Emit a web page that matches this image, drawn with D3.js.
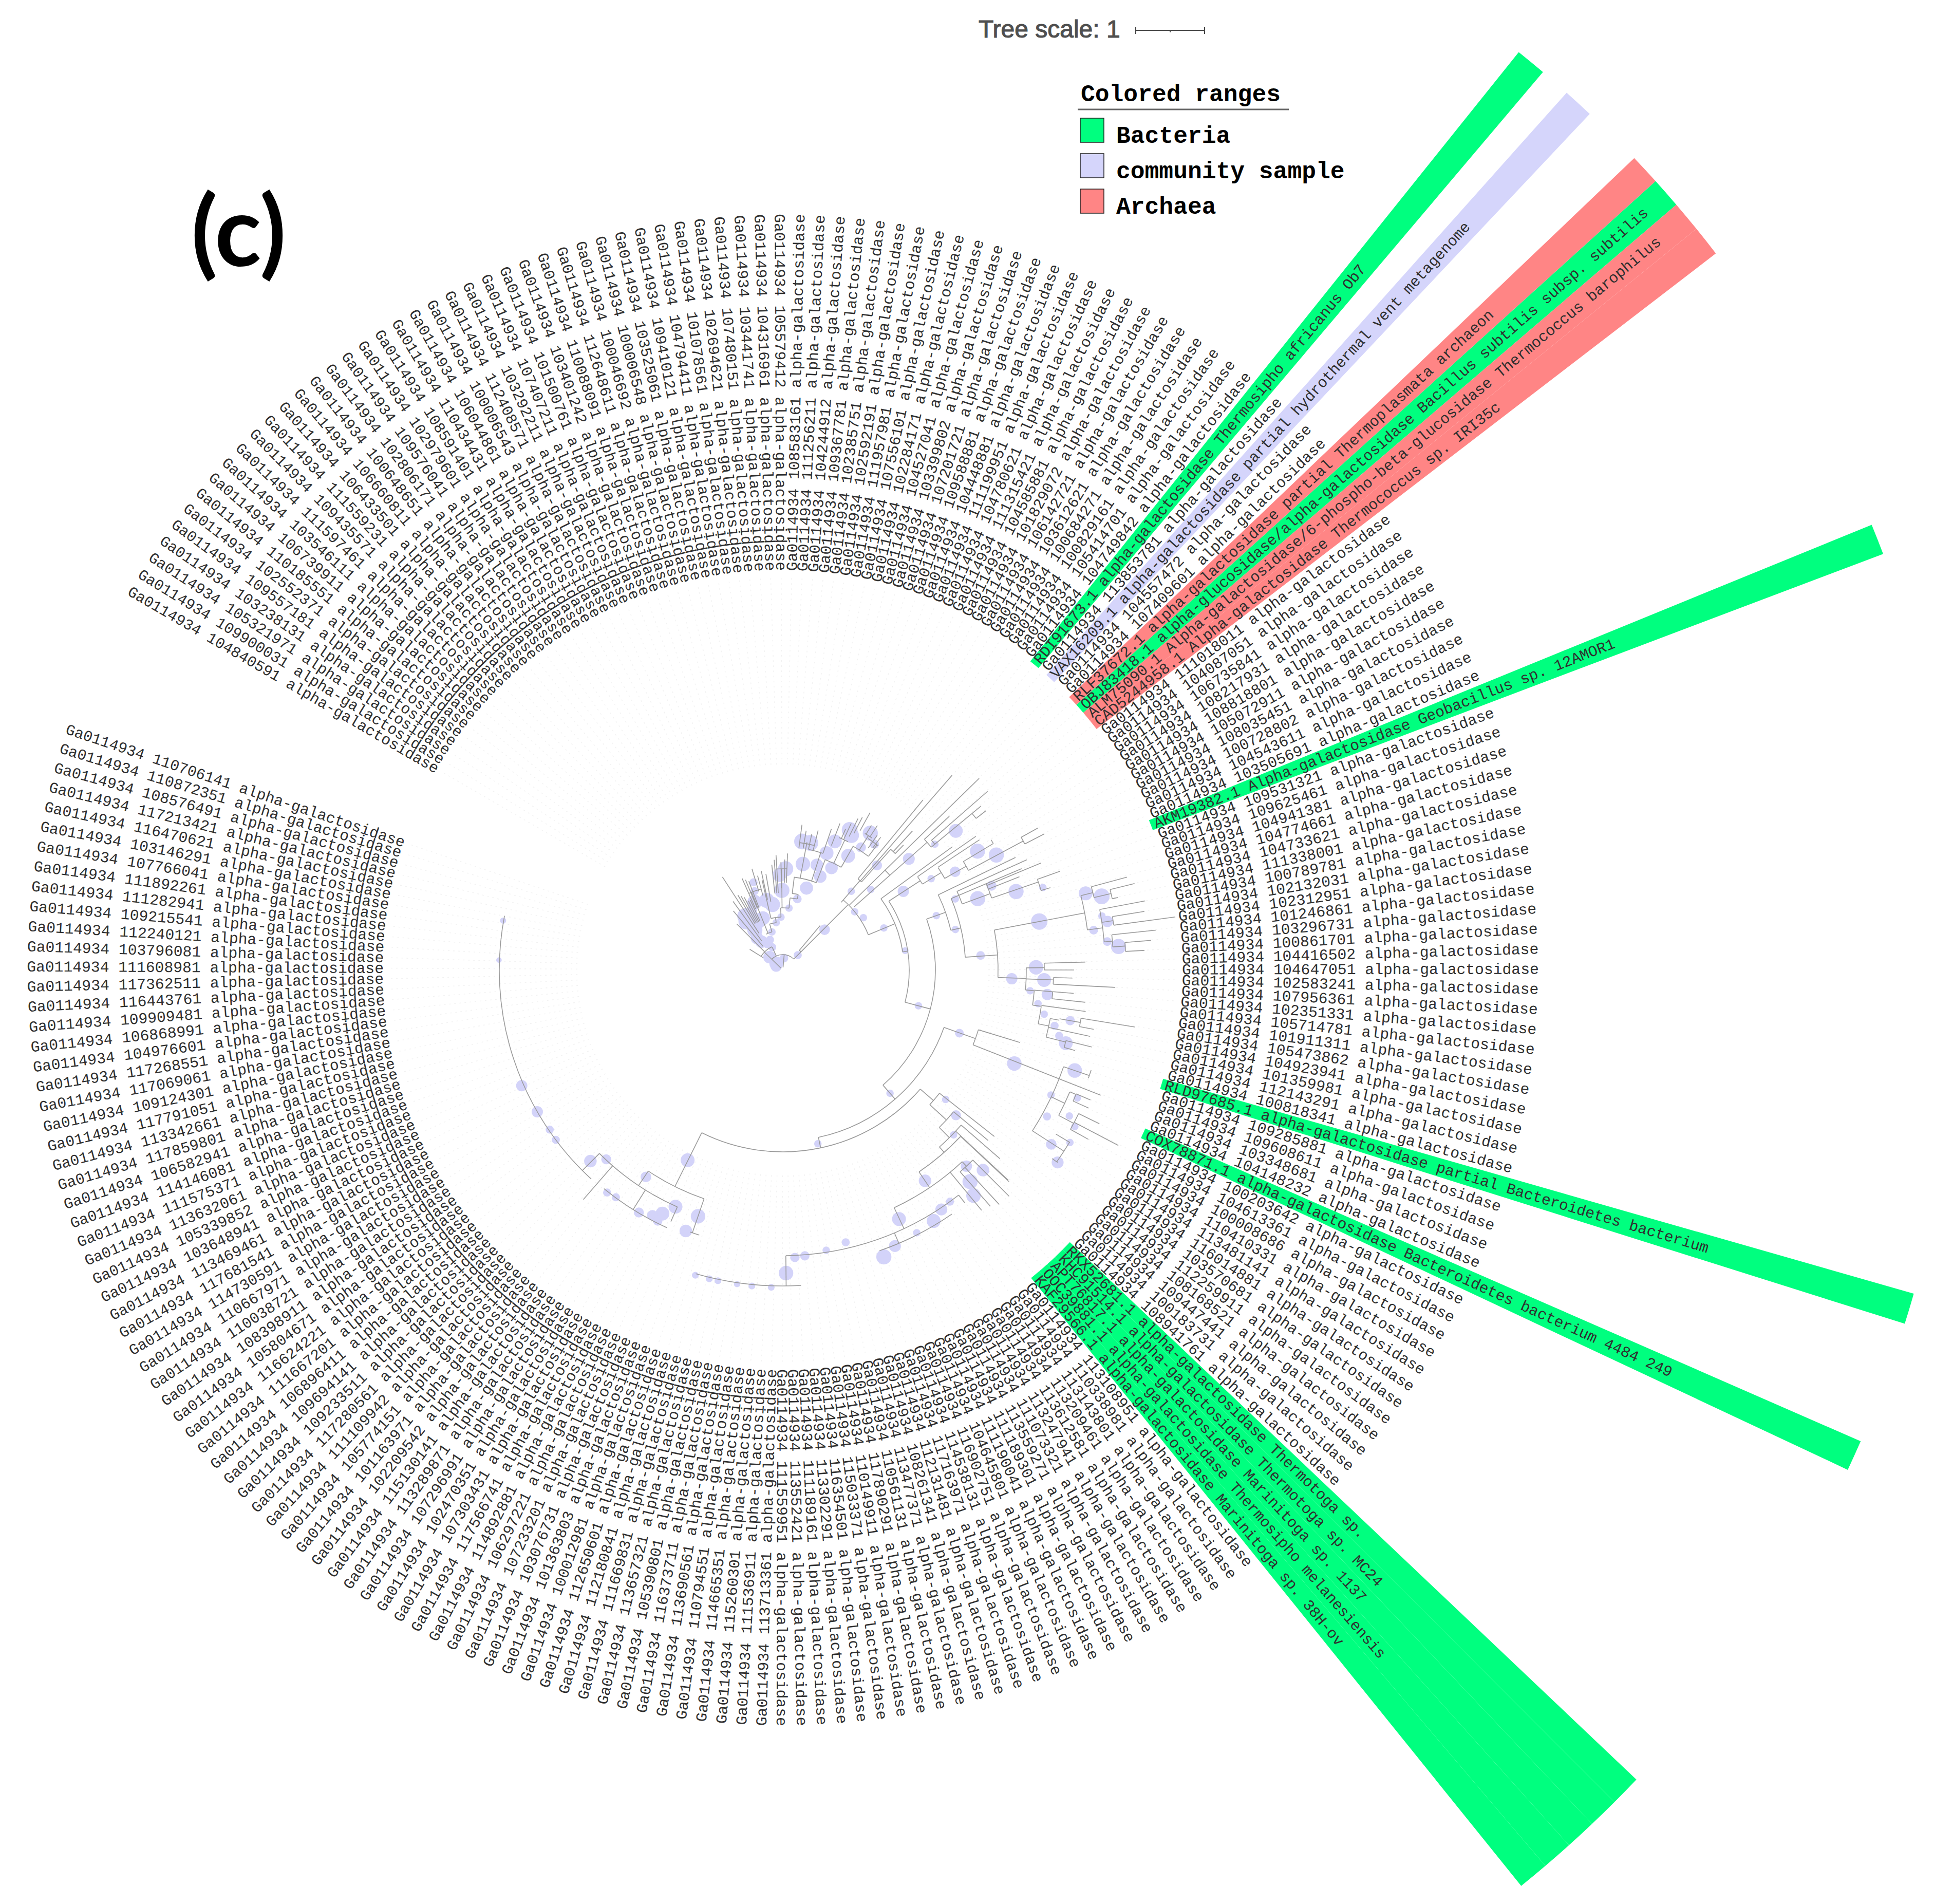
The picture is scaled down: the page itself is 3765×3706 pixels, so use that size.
<!DOCTYPE html>
<html>
<head>
<meta charset="utf-8">
<title>alpha-galactosidase tree</title>
<script src="https://cdn.jsdelivr.net/npm/d3@7"></script>
<style>
  html, body { margin: 0; background: #fff; }
  svg { display: block; }
</style>
</head>
<body>
<svg id="chart" width="3765" height="3706"></svg>
<script>
//Leaves clockwise from the open gap. Plain numbers are the Ga0114934 genes
var leafIds = [
  '104840591','109900031','105321971','103238131','109557181','102552371','110185551','106739911','103546111','111597461',
  '109435571','111559231','106433501','106660811','100648651','102806171','109576041','102979601','108591401','110434431',
  '106044861','100006543','112408571','103292211','107407211','101500761','103401242','110088091','112648611','100046692',
  '100006548','103525061','109410121','104794411','101078561','102694621','107480151','103441741','104316961','105579412',
  '108583161','111256211','104244912','109367781','102385751','102592191','111957981','107556101','102284171','104527041',
  '103399802','107201721','109588881','104448881','111199951','104780621','111315421','104585881','101829072','106142721',
  '103612621','100684271','100829161','105414701','104749842',
  'RDI91673.1 alpha-galactosidase Thermosipho africanus Ob7',
  '113853781',
  'VAX16209.1 alpha-galactosidase partial hydrothermal vent metagenome',
  '104557472','107409601',
  'RLF37672.1 alpha-galactosidase partial Thermoplasmata archaeon',
  'OBJ83418.1 alpha-glucosidase/alpha-galactosidase Bacillus subtilis subsp. subtilis',
  'ALM75090.1 Alpha-galactosidase/6-phospho-beta-glucosidase Thermococcus barophilus',
  'CAD5244958.1 Alpha-galactosidase Thermococcus sp. IRI35c',
  '111018011','104087051','106735841','108217931','108818801','105072911','108035451','100728802','104543611','103505691',
  'AKM19382.1 Alpha-galactosidase Geobacillus sp. 12AMOR1',
  '109531321','109625461','104941381','104774661','104733621','111338001','100789781','102132031','102312951','101246861',
  '103296731','100861701','104416502','104647051','102583241','107956361','102351331','105714781','101911311','105473862',
  '104923941','101359981','112143291','100818341',
  'RLD97685.1 alpha-galactosidase partial Bacteroidetes bacterium',
  '109285881','109608611','103348681','104148232',
  'COX78871.1 alpha-galactosidase Bacteroidetes bacterium 4484 249',
  '100203642','104613361','100008686','110410331','113481141','116014881','103570681','112259911','108168521','109447441',
  '100183731','108941761',
  'RKX52681.1 alpha-galactosidase Thermotoga sp.',
  'KHC91514.1 alpha-galactosidase Thermotoga sp. MC24',
  'APT76817.1 alpha-galactosidase Marinitoga sp. 1137',
  'OOC39881.1 alpha-galactosidase Thermosipho melanesiensis',
  'KAF29566.1 alpha-galactosidase Marinitoga sp. 38H-ov',
  '113108951','110338981','113143801','113209461','113612581','113247941','111073321','113559271','111189301','111190041',
  '104645801','116902751','114538131','117163971','112131481','108261341','113477371','110561131','117890291','110149911',
  '115033371','116354501','113302291','111189161','113552421','111559951',
  '113713361','111536911','115260301','114665351','110794551','113690561','116373711','105390801','113657321','111669831',
  '112180841','112650601','100012981','101363803','103076731','107233201','106297221','114892881','117566741','107303431',
  '102470351','107296991','113289871','115130141','102209542','101163971','105774151','111109942','117280561','109233511',
  '109694141','106896411','111667201','116624221','105804671','108398911','110038721','110667971','114730591','117681541',
  '113469461','103648941','105339852','113632061','111575371','114146081','106582941','117859801','113342661','117791051',
  '109124301','117069061','117268551','104976601','106868991','109909481','116443761','117362511','111608981','103796081',
  '112240121','109215541','111282941','111892261','107766041','103146291','116470621','117213421','108576491','110872351',
  '110706141'
];

var bacteriaLeaves = ['RDI91673.1','OBJ83418.1','AKM19382.1','RLD97685.1','COX78871.1','RKX52681.1','KHC91514.1','APT76817.1','OOC39881.1','KAF29566.1'];
var communityLeaves = ['VAX16209.1'];
var archaeaLeaves = ['RLF37672.1','ALM75090.1','CAD5244958.1'];
var legendNames = ['Bacteria','community sample','Archaea'];

//Tree: bearing in degrees, depth in tree distance (134 = 1 substitution)
//[bearing, depthFrom, depthTo]
var stems = [
  [-46,5,50],[5,5,30],[45,30,50],[-25,30,49],[-58,45,76],[-45,50,127],[-40,60,150],[-36,70,165],[-33,85,216],
  [-31,105,170],[-29.5,105,165],[-28,105,160],[-26.5,105,150],[-25,105,150],[-24,130,195],[-22.5,130,190],[-21,130,185],
  [-17,160,206],[-15,150,190],[-12.3,140,197],[-10,135,190],[-6,150,206],[-4.5,150,215],[-3.4,150,224],[-1,160,210],
  [2.3,170,227],[1,170,215],[7.5,240,285],[9.5,240,275],[14.2,240,280],[12,240,270],[21.3,260,306],[19,240,290],
  [26.4,290,329],[25,280,315],[24,280,300],[29,310,350],[27.5,300,335],[33.2,310,336],[31.5,310,330],[36.4,295,321],[35,290,320],
  [-16,77,93],[-8,93,103],[-2,103,121],[5.7,121,141],[11.5,141,150],[7,150,182],[21,182,230],[29.6,230,277],[37,277,305],
  [-0.7,121,197],[-13,103,180],[-22,77,163],[10.7,182,253],[17.9,182,240],[25.5,230,280],[32.5,277,310],
  [40,50,113],[45,50,180],[40.8,174,230],[39.5,230,429],[41,230,502],[41.8,230,315],[43,315,370],[44,315,338],
  [45.7,180,534],[48.5,185,375],[47.3,375,441],[50.4,375,478],[48.9,384,529],[50.4,478,500],[51.9,478,502],
  [67.6,180,236],[81.4,236,246],[54,236,408],[57,246,319],[55.3,319,457],[58.4,319,362],[56.5,362,459],[60.5,362,410],
  [59,410,478],[61.8,410,531],[60.9,531,568],[62.5,531,574],
  [104.8,246,297],[70.5,297,336],[64.2,336,503],[76.7,336,356],[86,356,419],[67,356,505],[65.7,372,521],[69.8,372,430],
  [67.5,430,544],[68.5,430,495],[71,430,526],[70.4,526,573],[72.9,526,545],
  [79.3,419,598],[92,419,474],[76,598,622],[74.9,622,694],[76.9,622,656],[76.2,656,705],[77.8,656,668],
  [82.5,598,628],[79.2,628,718],[81.5,628,650],[80.8,650,713],[82.3,650,771],[85,628,644],[83.9,644,730],[86,644,668],[85.4,668,719],[86.9,668,705],
  [89.5,474,509],[88.5,509,589],[90,509,567],[92.1,474,527],[91.6,527,564],[93,527,648],[94.7,474,491],
  [94.6,491,527],[94.6,527,568],[96.1,527,592],[98,491,508],[97.8,508,595],[101.9,508,529],[100.3,529,547],[100,547,588],
  [99.2,588,694],[100.8,588,616],[102.2,529,612],[104.3,529,568],[104,568,620],[105.4,568,590],
  [139,297,333],[109.6,333,398],[107,398,483],[111.5,398,665],[109,578,631],[122.8,578,651],[121,620,652],[125,640,653],
  [115.3,578,607],[113,607,620],[114.3,620,653],[112.9,620,650],[117.8,607,640],[115.9,640,685],[119,640,680],[117.6,640,737],
  [168,333,354],[130.9,354,388],[128.2,388,524],[132.5,388,432],[129.7,432,519],[135.2,432,460],[131,460,560],[133,460,600],[138.5,460,474],
  [133.1,474,603],[146,474,511],[136.9,511,523],[135,523,623],[137.3,523,621],[138.7,523,612],[140.4,511,607],[154.9,511,556],
  [142,556,575],[179.4,556,615],[157,556,578],
  [206.5,354,471],[199,471,541],[213.8,471,505],[204,505,536],[221,505,592],[225,505,552],[212,505,550]
];

//[depth, bearingFrom, bearingTo]
var arcsData = [
  [30,-46,45],[50,-58,-25],[50,40,45],[77,-25,-16],[93,-16,-8],[103,-13,-2],[121,-2,5.7],[141,5.7,11.5],[150,7,11.5],[182,7,21],
  [230,21,29.6],[277,29.6,37],[197,-4,2.3],[163,-24,-15],[250,7.5,14],[240,12,19],[280,23,27],[310,31,34],[305,33,37.5],
  [180,40.8,67.7],[230,39.5,41.8],[315,41.8,44],[278,45.5,48.5],[375,47.3,50.4],[384,48.9,50.4],[478,50.4,51.9],
  [236,54,81.4],[246,57,104.8],[319,55.4,58.4],[362,56.6,60.5],[410,59,61.8],[531,60.9,62.5],[478,58,59],
  [297,70.5,139],[336,64.2,76.7],[356,67,86],[372,65.7,69.8],[430,66.9,71],[526,70.4,72.9],
  [419,79.3,92],[598,76,82.5],[622,74.9,76.9],[656,76.2,77.8],[628,79.2,85],[650,80.8,82.3],[644,83.9,86],[668,85.4,86.9],
  [474,89.5,94.7],[509,88.5,90],[527,91.6,93],[491,94.7,98],[527,94.6,96.1],[508,98,101.9],[529,100.3,104.3],[588,99.2,100.8],[568,104,105.4],
  [333,109.6,168],[398,107,111.5],[631,108,109.5],[578,109,122.8],[651,121,125],[607,113,117.8],[620,112.9,114.3],[640,115.9,119],
  [354,130.9,206.5],[388,128.2,132.5],[432,129.7,135.2],[460,131,138.5],[474,133.1,146],[511,136.9,154.9],[523,135,138.7],
  [556,142,179.4],[615,176.7,196],[578,145.3,161],[471,199,213.8],[541,197.5,199.5],[505,204,225],[552,222.5,281],[550,204.2,219.3]
];

//[bearing, depth, support 0..1]
var supportNodes = [
  [8.5,253,0.95],[12.2,253,0.95],[22,270,0.8],[25.5,302,0.95],[27,294,0.9],[32.6,316,0.9],[32.5,283,0.5],[36,303,0.45],[20.5,243,0.8],[29.8,256,0.8],
  [10.7,210,0.85],[17.9,215,0.7],[25.5,220,0.7],[21.8,196,0.7],[16.1,166,0.75],[1.6,197,0.9],[-2,185,0.8],[-0.7,155,0.9],[11.5,141,0.4],[5.7,121,0.3],
  [-9,129,0.9],[-13,139,0.9],[-22.6,143,0.85],[-18.5,180,0.35],[-19.8,163,0.35],[-35,128,0.95],[-27,107,0.95],[-21,108,0.8],[-2,103,0.3],[-8,93,0.3],
  [-16,77,0.3],[-37,69,0.7],[-23,64,0.35],[-25,49,0.35],[-46,36,0.7],[5,23,0.4],[-60,15,0.6],[45,41,0.35],[46,113,0.55],[41,203,0.3],
  [-37,118,0.95],[-35,95,0.9],[-33,105,0.8],[-39,80,0.7],[-45,18,0.8],[-30,60,0.5],[-28,130,0.6],
  [47.5,232,0.3],[42,274,0.5],[51,180,0.3],[57,187,0.3],[67.4,213,0.3],[81,241,0.25],[48.6,327,0.65],[51.2,432,0.8],[50.4,384,0.3],
  [79.3,508,1],[77,637,0.95],[75.8,608,0.8],[86,655,0.9],[82.7,610,0.4],[81.5,639,0.6],[80.4,630,0.3],[85,634,0.4],[89.4,493,0.85],[92.2,509,0.8],
  [92.2,446,0.6],[95.3,517,0.6],[94.8,483,0.3],[97.5,501,0.3],[99.6,516,0.3],[101.6,540,0.35],[100,568,0.45],[103.4,553,0.35],[104.5,569,0.8],
  [85.8,386,0.4],[70.5,317,0.3],[76.8,345,0.3],[104.8,273,0.3],[71.4,479,0.9],[69.9,404,0.9],[68,438,0.5],[67.6,363,0.3],[72.4,531,0.3],
  [56.9,280,0.6],[58.4,339,0.3],[60.3,386,0.55],[58.6,444,0.9],[61.7,472,0.9],
  [109.7,365,0.4],[112,486,0.85],[109,601,0.85],[104.4,567,0.3],[115,576,0.3],[119,588,0.35],[123,623,0.55],[121,652,0.3],[125,653,0.65],
  [113.5,625,0.3],[117,626,0.3],[118.2,645,0.3],[139,318,0.3],[168.6,345,0.3],
  [128.5,405,0.3],[130,440,0.5],[134,462,0.3],[146,495,0.7],[136.9,523,0.6],[135,551,0.7],[138.5,550,0.9],[139.8,575,0.85],[155,535,0.8],
  [146.5,559,0.65],[144.2,556,0.35],[149,570,0.8],[157.9,580,0.65],[160.6,592,0.9],[153,574,0.3],
  [179.4,590,0.85],[177.6,560,0.45],[175.6,558,0.45],[171.2,552,0.3],[167,544,0.35],
  [196,618,0.25],[193.4,618,0.25],[191.8,618,0.25],[188.3,618,0.2],[185.6,618,0.25],[182.1,618,0.25],
  [246.1,556,0.6],[240,552,0.6],[235.6,550,0.35],[233.2,552,0.35],[225.2,528,0.7],[223,504,0.5],[213.5,483,0.55],[206.6,414,0.8],[199,507,0.85],
  [200.4,542,0.7],[204.4,506,0.8],[206.3,529,0.8],[208,541,0.55],[210.7,549,0.5],[206.5,546,0.45],[218.3,552,0.35],[216.3,549,0.35],[280,553,0.2],[272,553,0.15]
];

var centerX = 1524, centerY = 1888;
var labelRadius = 777, rangeOuter = 2290, rangeInner = 770;
var leafStart = 300.15, leafStep = 1.5283;

var svg = d3.select('#chart');
var tree = svg.append('g').attr('transform', 'translate(' + centerX + ',' + centerY + ')');

var toRad = d3.scaleLinear().domain([0, 360]).range([0, 2 * Math.PI]);
var leafBearing = d3.scaleLinear().domain([0, leafIds.length - 1]).range([leafStart, leafStart + leafStep * (leafIds.length - 1)]);
var depthScale = d3.scaleLinear().domain([0, 777]).range([0, labelRadius]);
var supportScale = d3.scaleLinear().domain([0, 1]).range([3.5, 16]);

var rangeColor = d3.scaleOrdinal().domain(legendNames).range(['#00ff7f', '#d5d5fb', '#ff8585']);

var leaf_index = function(accession){
  return leafIds.findIndex(function(l){ return l.indexOf(accession + ' ') === 0; });
};

//Left-half labels read towards the centre. The half degree keeps the two bottom rows on the right side
var is_flipped = function(i){
  return Math.sin(toRad(leafBearing(i) - 0.5)) < 0;
};

//Colored ranges go under everything else
var wedge = d3.arc().innerRadius(rangeInner).outerRadius(rangeOuter);
[bacteriaLeaves, communityLeaves, archaeaLeaves].forEach(function(list, k){
  tree.append('g').selectAll('path')
    .data(list)
    .enter()
    .append('path')
    .attr('fill', rangeColor(legendNames[k]))
    .attr('d', function(d){
      var b = leafBearing(leaf_index(d));
      return wedge({startAngle: toRad(b - leafStep / 2), endAngle: toRad(b + leafStep / 2)});
    });
});

//Faint dotted guides from the tree out to the labels
tree.append('g').selectAll('line')
  .data(leafIds)
  .enter()
  .append('path')
  .attr('stroke', '#f2f2f2')
  .attr('stroke-width', 1.5)
  .attr('stroke-dasharray', '3 7')
  .attr('d', function(d, i){
    return d3.lineRadial()([[toRad(leafBearing(i)), 400], [toRad(leafBearing(i)), labelRadius - 8]]);
  });

tree.append('g').selectAll('circle')
  .data(supportNodes)
  .enter()
  .append('circle')
  .attr('fill', '#d3d3f9')
  .attr('r', function(d){ return supportScale(d[2]); })
  .attr('cx', function(d){ return d3.pointRadial(toRad(d[0]), depthScale(d[1]))[0]; })
  .attr('cy', function(d){ return d3.pointRadial(toRad(d[0]), depthScale(d[1]))[1]; });

var branchArc = d3.arc();
tree.append('g').attr('fill', 'none').attr('stroke', '#9a9a9a').attr('stroke-width', 1.6)
  .selectAll('path')
  .data(arcsData)
  .enter()
  .append('path')
  .attr('d', function(d){
    return branchArc({innerRadius: depthScale(d[0]), outerRadius: depthScale(d[0]), startAngle: toRad(d[1]), endAngle: toRad(d[2])});
  });

tree.append('g').attr('fill', 'none').attr('stroke', '#9a9a9a').attr('stroke-width', 1.6)
  .selectAll('path')
  .data(stems)
  .enter()
  .append('path')
  .attr('d', function(d){
    return d3.lineRadial()([[toRad(d[0]), depthScale(d[1])], [toRad(d[0]), depthScale(d[2])]]);
  });

//Leaf labels
tree.append('g')
  .attr('font-family', '"Liberation Mono", monospace')
  .attr('font-size', 29.7)
  .attr('fill', '#2f2f2f')
  .selectAll('text')
  .data(leafIds)
  .enter()
  .append('text')
  .attr('dy', '0.32em')
  .attr('transform', function(d, i){
    return 'rotate(' + (leafBearing(i) - 90) + ') translate(' + labelRadius + ',0)' + (is_flipped(i) ? ' rotate(180)' : '');
  })
  .attr('text-anchor', function(d, i){ return is_flipped(i) ? 'end' : 'start'; })
  .text(function(d){
    return /^\d/.test(d) ? 'Ga0114934 ' + d + ' alpha-galactosidase' : d;
  });

//Panel letter
svg.append('text')
  .attr('x', 372).attr('y', 518)
  .attr('font-family', 'Lato, sans-serif')
  .attr('font-weight', 700)
  .attr('font-size', 190)
  .attr('textLength', 185)
  .attr('lengthAdjust', 'spacingAndGlyphs')
  .attr('fill', '#000')
  .text('(c)');

//Tree scale
svg.append('text')
  .attr('x', 1905).attr('y', 73)
  .attr('font-family', '"Liberation Sans", sans-serif')
  .attr('font-size', 48)
  .attr('fill', '#4f4f4f')
  .attr('stroke', '#4f4f4f')
  .attr('stroke-width', 1.2)
  .text('Tree scale: 1');

var scaleUnit = depthScale(134);
var bar = svg.append('g').attr('transform', 'translate(2211,59)').attr('stroke', '#444').attr('stroke-width', 2);
bar.append('line').attr('x1', 0).attr('x2', scaleUnit);
[0, scaleUnit].forEach(function(x){
  bar.append('line').attr('x1', x).attr('x2', x).attr('y1', -6).attr('y2', 7);
});
bar.append('line').attr('x1', scaleUnit / 2).attr('x2', scaleUnit / 2).attr('y1', 0).attr('y2', 4);

//Legend
var legend = svg.append('g')
  .attr('font-family', '"Liberation Mono", monospace')
  .attr('font-weight', 700)
  .attr('font-size', 46.3)
  .attr('fill', '#000');
legend.append('text').attr('x', 2104).attr('y', 197).text('Colored ranges');
legend.append('line').attr('x1', 2098).attr('x2', 2509).attr('y1', 213).attr('y2', 213).attr('stroke', '#666').attr('stroke-width', 3);

var legendY = d3.scalePoint().domain(legendNames).range([277, 415]);
legend.selectAll('rect')
  .data(legendNames)
  .enter()
  .append('rect')
  .attr('x', 2103).attr('width', 46).attr('height', 47)
  .attr('y', function(d){ return legendY(d) - 47; })
  .attr('fill', function(d){ return rangeColor(d); })
  .attr('stroke', '#222').attr('stroke-width', 1.5);
legend.selectAll('text.entry')
  .data(legendNames)
  .enter()
  .append('text')
  .attr('class', 'entry')
  .attr('x', 2173)
  .attr('y', function(d){ return legendY(d) + 1; })
  .text(function(d){ return d; });
</script>
</body>
</html>
